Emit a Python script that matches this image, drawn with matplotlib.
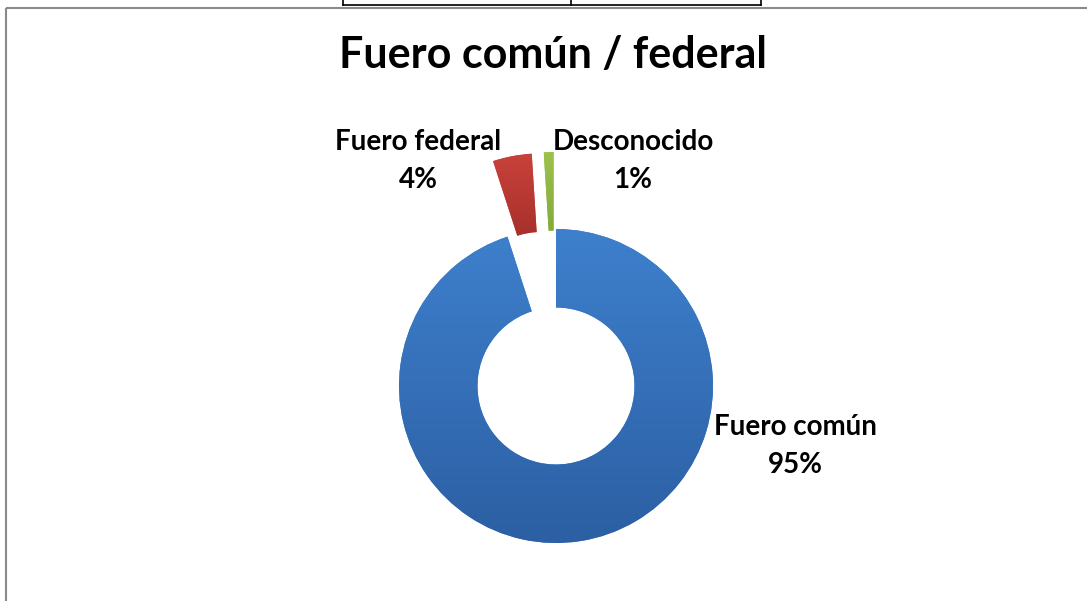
import numpy as np
import matplotlib
matplotlib.use('Agg')
import matplotlib.pyplot as plt
from matplotlib.colors import LinearSegmentedColormap

title = 'Fuero común / federal'
categories = ['Fuero común', 'Fuero federal', 'Desconocido']
values = [95, 4, 1]
explode_frac = [0.0, 0.49, 0.49]
top_colors = ['#3e80cd', '#c9423b', '#9cc24c']
bottom_colors = ['#2c5fa3', '#a8302b', '#84ab38']

W, H = 1087, 601
plt.rcParams['font.family'] = ['Lato', 'DejaVu Sans']

fig = plt.figure(figsize=(W / 100, H / 100), dpi=100)
ax = fig.add_axes([0, 0, 1, 1])

# pie in pixel units, y measured from bottom
cx, cy, R = 556, H - 386, 157
wedges, _ = ax.pie(values, radius=R, center=(cx, cy), startangle=90,
                   counterclock=False, explode=[e * R for e in explode_frac],
                   wedgeprops=dict(width=R * 0.5, linewidth=0),
                   colors=top_colors, frame=True)

# vertical gradient inside each wedge
for w, c0, c1 in zip(wedges, top_colors, bottom_colors):
    cmap = LinearSegmentedColormap.from_list('g', [c1, c0])
    grad = np.linspace(0, 1, 256).reshape(-1, 1)
    bb = w.get_path().get_extents(w.get_transform())
    inv = ax.transData.inverted()
    (x0, y0), (x1, y1) = inv.transform([[bb.x0, bb.y0], [bb.x1, bb.y1]])
    im = ax.imshow(grad, cmap=cmap, origin='lower', aspect='auto',
                   extent=(x0, x1, y0, y1), zorder=w.get_zorder() + 0.1)
    im.set_clip_path(w)

ax.set_xlim(0, W)
ax.set_ylim(0, H)
ax.set_aspect('auto')
ax.axis('off')

def py(y):
    return H - y

ax.text(553, py(68), title, ha='center', va='baseline',
        fontsize=31, fontweight='bold', color='black')

label_pos = [(418, 150, 188), (633, 150, 188)]
label_pos = [(795, 435, 473)] + label_pos
total = sum(values)
for name, v, (lx, ly1, ly2) in zip(categories, values, label_pos):
    ax.text(lx, py(ly1), name, ha='center', va='baseline',
            fontsize=20, fontweight='bold', color='black')
    ax.text(lx, py(ly2), f'{round(100 * v / total)}%', ha='center',
            va='baseline', fontsize=20, fontweight='bold', color='black')

# frame pieces around the chart
grey = '#8a8a8a'
ax.plot([6, W], [py(7.5), py(7.5)], color=grey, lw=1.5, solid_capstyle='butt')
ax.plot([6, 6], [py(7.5), 0], color=grey, lw=1.5, solid_capstyle='butt')
for bx in [343, 571, 761]:
    ax.plot([bx, bx], [H, py(5)], color='black', lw=1.2)
ax.plot([343, 761], [py(5), py(5)], color='black', lw=1.2)

fig.savefig('out.png', dpi=100)
